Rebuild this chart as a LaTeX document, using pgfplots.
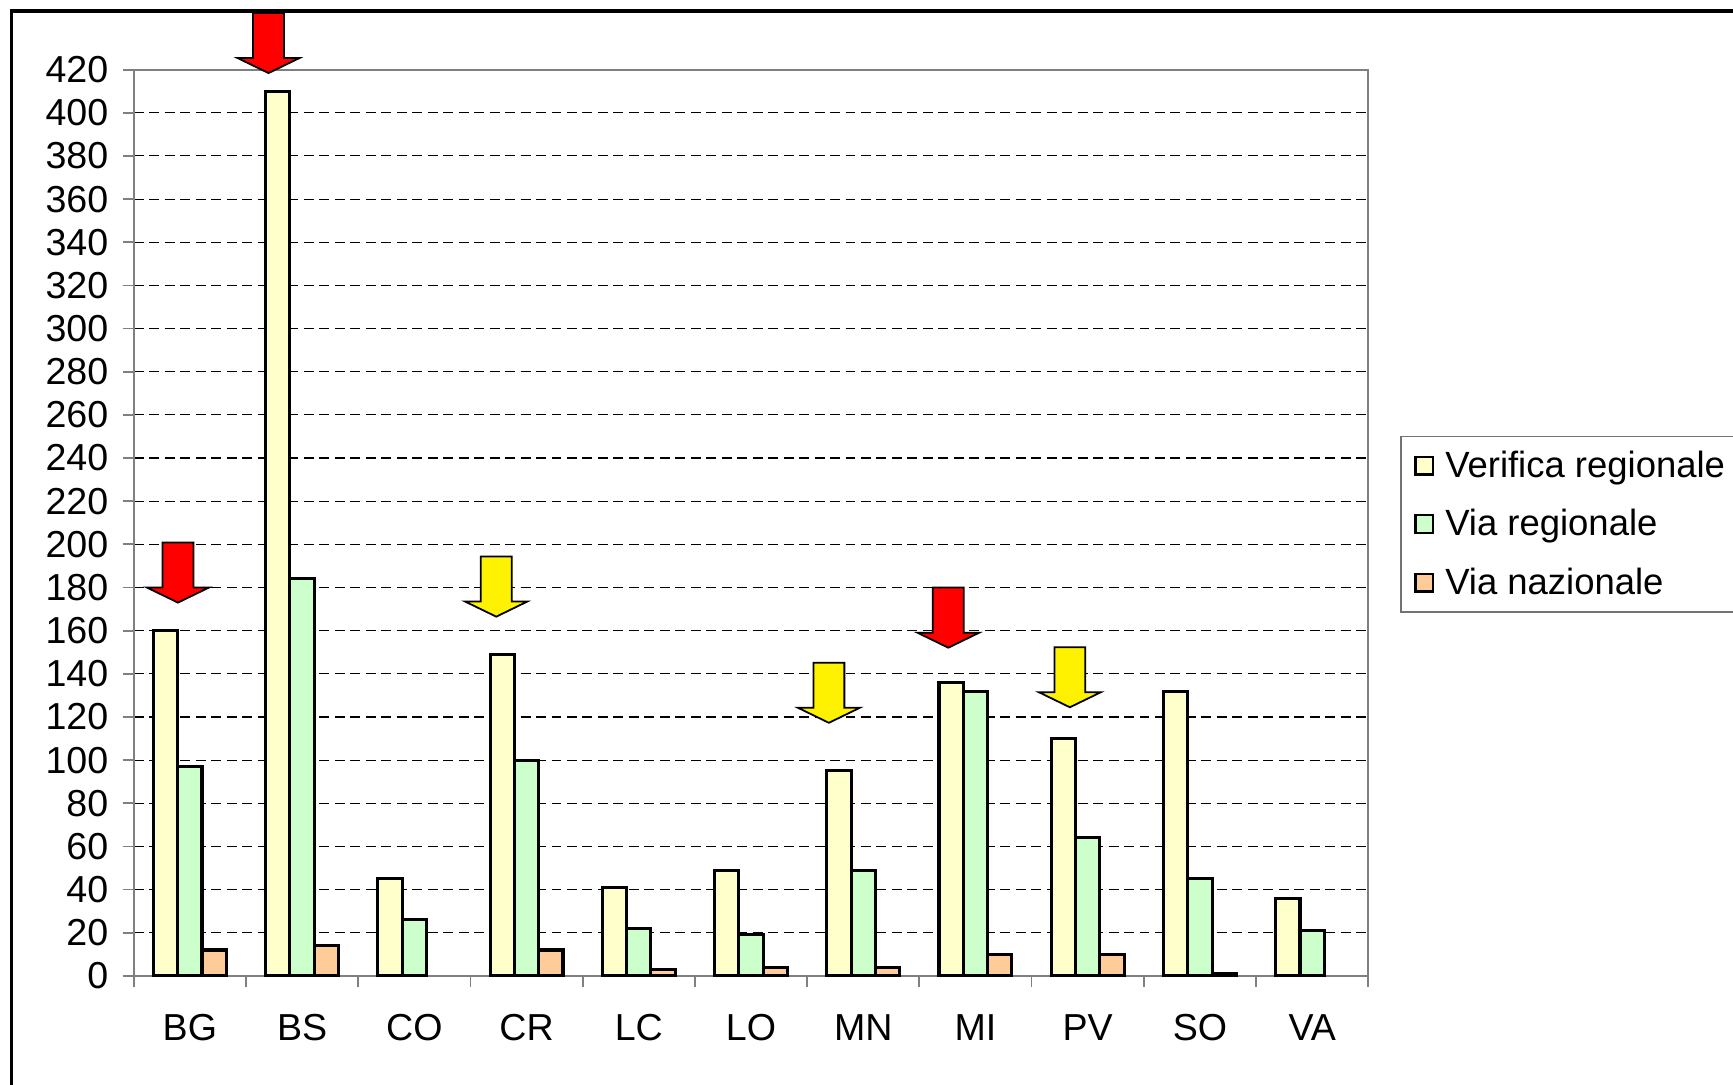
\documentclass[border=0pt]{standalone}
\usepackage{fontspec}
\setmainfont{Liberation Sans}
\usepackage{pgfplots}
\pgfplotsset{compat=1.18}
\definecolor{cVer}{HTML}{FFFFCC}
\definecolor{cVia}{HTML}{CCFFCC}
\definecolor{cNaz}{HTML}{FFCC99}
\definecolor{axgray}{HTML}{808080}
\newcommand{\downarrowat}[3]{%
  \draw[fill=#3, line width=0.8pt, line join=miter]
    (axis cs:#1,#2) -- ++(14pt,6.8pt) -- ++(-7pt,0pt) -- ++(0pt,20.4pt)
    -- ++(-14pt,0pt) -- ++(0pt,-20.4pt) -- ++(-7pt,0pt) -- cycle;}
\begin{document}
\begin{tikzpicture}
\useasboundingbox (0pt,0pt) rectangle (784pt,490.5pt);
\fill[white] (0pt,0pt) rectangle (784pt,490.5pt);
\begin{axis}[
  at={(60.5pt,49pt)}, anchor=south west,
  scale only axis, width=558.5pt, height=410pt,
  xmin=-0.5, xmax=10.5, ymin=0, ymax=420,
  ybar=0pt, bar width=11pt,
  axis line style={draw=axgray, line width=1pt},
  ytick={0,20,...,420},
  xtick={-0.5,0.5,...,10.5}, xticklabels={},
  extra x ticks={0,1,2,3,4,5,6,7,8,9,10},
  extra x tick labels={BG,BS,CO,CR,LC,LO,MN,MI,PV,SO,VA},
  extra x tick style={major tick length=0pt, xticklabel style={yshift=-14pt}},
  tick align=outside, major tick length=5pt,
  tick style={draw=axgray, line width=0.8pt},
  ytick pos=left, xtick pos=bottom,
  ymajorgrids, grid style={black, dash pattern=on 4.5pt off 2.5pt, line width=0.5pt},
  tick label style={font=\fontsize{17}{20.4}\selectfont},
  yticklabel style={xshift=-3pt},
  /pgf/number format/assume math mode=true,
  clip=false,
  legend style={at={(1.026,0.596)}, anchor=north west, draw=black!55, line width=0.6pt,
    fill=white, font=\fontsize{16.5}{19.8}\selectfont, row sep=9pt,
    inner xsep=5pt, inner ysep=4.5pt},
  legend cell align=left,
  legend image code/.code={\path[draw=none, fill=none] (0pt,0pt) -- (13pt,0pt);
    \draw[#1, line width=1pt] (1.5pt,-4pt) rectangle (9.5pt,4pt);},
]
\addplot[draw=black, line width=1.4pt, fill=cVer] coordinates {
  (0,160) (1,410) (2,45) (3,149) (4,41) (5,49) (6,95) (7,136) (8,110) (9,132) (10,36)};
\addlegendentry{Verifica regionale}
\addplot[draw=black, line width=1.4pt, fill=cVia] coordinates {
  (0,97) (1,184) (2,26) (3,100) (4,22) (5,19) (6,49) (7,132) (8,64) (9,45) (10,21)};
\addlegendentry{Via regionale}
\addplot[draw=black, line width=1.4pt, fill=cNaz] coordinates {
  (0,12) (1,14) (3,12) (4,3) (5,4) (6,4) (7,10) (8,10) (9,1)};
\addlegendentry{Via nazionale}
\downarrowat{-0.106}{173}{red}
\downarrowat{0.701}{418.4}{red}
\downarrowat{2.730}{166.5}{yellow}
\downarrowat{5.694}{117.3}{yellow}
\downarrowat{6.758}{152.1}{red}
\downarrowat{7.841}{124.5}{yellow}
\end{axis}
\draw[black, line width=1.4pt] (5pt,-20pt) -- (5pt,485.5pt) -- (820pt,485.5pt);
\end{tikzpicture}
\end{document}
